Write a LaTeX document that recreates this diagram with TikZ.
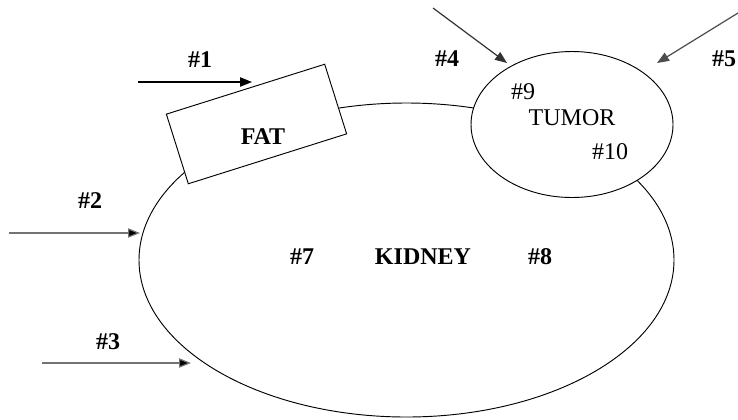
\documentclass[tikz,border=0pt]{standalone}
\usepackage{fontspec}
\setmainfont{Liberation Serif}
\usetikzlibrary{shapes.geometric,arrows.meta}
\begin{document}
\begin{tikzpicture}[x=0.75pt,y=-0.75pt,
  shapeline/.style={draw=black,line width=0.7pt},
  lbl/.style={font=\fontsize{18}{20}\selectfont\bfseries,inner sep=0pt},
  lblr/.style={font=\fontsize{18}{20}\selectfont,inner sep=0pt},
  arr/.style={line width=0.9pt,-{Triangle[length=9pt,width=7pt]}},
  arrg/.style={draw=black!55,line width=0.9pt,-{Triangle[length=9pt,width=7pt,fill=black]}}]
\useasboundingbox (0,0) rectangle (738,419);
% kidney
\node[shapeline,ellipse,minimum width=401.25pt,minimum height=235.5pt,inner sep=0pt] (kidney) at (406.5,260) {};
% tumor
\node[shapeline,fill=white,ellipse,minimum width=151.5pt,minimum height=109.5pt,inner sep=0pt] (tumor) at (572,124.5) {};
% fat
\node[shapeline,fill=white,rectangle,rotate=17.5,minimum width=124.5pt,minimum height=54.75pt,inner sep=0pt] (fat) at (256.5,124) {};
% texts
\node[lbl] (tfat) at (263,137) {FAT};
\node[lbl] (tkid) at (423,257) {KIDNEY};
\node[lbl] (t7) at (302,257) {\#7};
\node[lbl] (t8) at (540,257) {\#8};
\node[lblr] (ttum) at (572,118) {TUMOR};
\node[lblr] (t9) at (523,92) {\#9};
\node[lblr] (t10) at (610,152) {\#10};
\node[lbl] (t1) at (200,60) {\#1};
\node[lbl] (t2) at (90,201) {\#2};
\node[lbl] (t3) at (108,342) {\#3};
\node[lbl] (t4) at (447,59) {\#4};
\node[lbl] (t5) at (724,59) {\#5};
% arrows
\coordinate (a1s) at (138,82);  \coordinate (a1e) at (252,82);
\coordinate (a2s) at (9,233);   \coordinate (a2e) at (140,233);
\coordinate (a3s) at (42,363);  \coordinate (a3e) at (191,363);
\coordinate (a4s) at (433,8);   \coordinate (a4e) at (507,63);
\coordinate (a5s) at (738,13);  \coordinate (a5e) at (657,63);
\draw[arr] (a1s) -- (a1e);
\draw[arrg] (a2s) -- (a2e);
\draw[arrg] (a3s) -- (a3e);
\draw[arr,draw=black!80] (a4s) -- (a4e);
\draw[arr,draw=black!70] (a5s) -- (a5e);
\end{tikzpicture}
\end{document}
